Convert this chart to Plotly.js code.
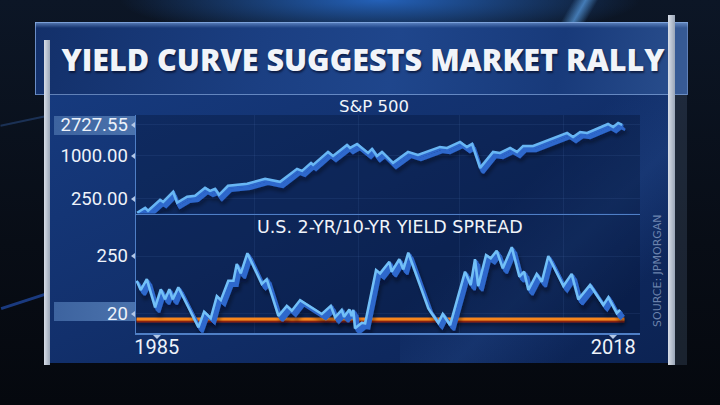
<!DOCTYPE html>
<html>
<head>
<meta charset="utf-8">
<script src="https://cdn.plot.ly/plotly-3.0.1.min.js"></script>
<style>
  html, body { margin:0; padding:0; background:#070c14; }
  #wrap { position:relative; width:720px; height:405px; overflow:hidden;
    background:
      radial-gradient(ellipse 260px 40px at 380px 0px, rgba(40,110,210,0.85), rgba(40,110,210,0) 100%),
      linear-gradient(180deg, #0c1626 0%, #080d16 60%, #05080e 100%); }
  .deco { position:absolute; }
  .ptr { position:absolute; width:0; height:0; }
  #chart { position:absolute; left:0; top:0; width:720px; height:405px; }
</style>
</head>
<body>
<div id="wrap">
  <div class="deco" style="left:0;top:120px;width:46px;height:2px;background:rgba(60,110,190,0.35);transform:rotate(-12deg);"></div>
  <div class="deco" style="left:0;top:300px;width:46px;height:3px;background:rgba(40,90,200,0.6);transform:rotate(-18deg);"></div>
  <div class="deco" style="left:560px;top:-10px;width:40px;height:40px;background:linear-gradient(120deg,rgba(90,160,230,0) 30%,rgba(90,160,230,0.7) 50%,rgba(90,160,230,0) 70%);"></div>
  <!-- panel body -->
  <div class="deco" style="left:50px;top:95px;width:618px;height:268px;background:linear-gradient(155deg,#163a7e 0%,#12306c 45%,#0e285e 75%,#0c2353 100%);"></div>
  <div class="deco" style="left:400px;top:95px;width:268px;height:268px;background:linear-gradient(135deg,rgba(60,110,190,0) 40%,rgba(60,110,190,0.18) 60%,rgba(60,110,190,0) 80%);"></div>
  <!-- banner -->
  <div class="deco" style="left:35px;top:22px;width:653px;height:73px;box-sizing:border-box;border:1px solid rgba(160,195,245,0.55);background:linear-gradient(100deg,#13306a 0%,#1b3f82 35%,#1f468c 55%,#183a7a 80%,#2a4f8e 100%);"></div>
  <div class="deco" style="left:35px;top:22px;width:653px;height:6px;background:linear-gradient(180deg,rgba(150,190,245,0.55),rgba(150,190,245,0));"></div>
  <!-- silver bars -->
  <div class="deco" style="left:44px;top:40px;width:6px;height:325px;background:linear-gradient(90deg,#d8dee8,#9aa6b8);"></div>
  <div class="deco" style="left:668px;top:15px;width:7px;height:350px;background:linear-gradient(90deg,#d8dee8,#9aa6b8);"></div>
  <div class="deco" style="left:675px;top:22px;width:12px;height:343px;background:rgba(120,150,190,0.18);"></div>
  <!-- highlighted tick boxes -->
  <div class="deco" style="left:54px;top:116px;width:82px;height:19px;background:linear-gradient(90deg,#3d639f,#4b73ad);"></div>
  <div class="deco" style="left:54px;top:302px;width:82px;height:19px;background:linear-gradient(90deg,#3d639f,#4b73ad);"></div>
  <div id="chart"></div>
</div>
<script>
// ---- data ----
const spYears = [1983.58,1984.16,1984.37,1985.24,1985.46,1986.18,1986.47,1987.19,1987.77,1988.49,1988.85,1989.21,1989.50,1990.15,1991.53,1992.83,1993.91,1995.14,1995.50,1996.15,1996.30,1997.38,1997.74,1998.75,1998.97,1999.48,2000.27,2000.56,2000.92,2001.28,2002.08,2003.16,2003.88,2005.47,2005.98,2006.92,2007.42,2007.79,2008.37,2009.31,2009.81,2010.54,2011.04,2011.48,2012.20,2014.66,2015.09,2015.60,2016.11,2017.62,2017.99,2018.35,2018.64];
const spValues = [158.7,186.6,169.3,241.5,226.3,312.7,219.2,266.1,274.8,355.8,322.9,344.5,283.8,379.6,404.9,475.9,431.9,657.2,616.0,797.6,747.6,1138,1000,1427,1295,1473,1102,1254,1000,1138,797.6,1138,1033,1337,1295,1572,1337,1473,678.6,1138,1102,1295,1138,1381,1381,2102,1847,2171,2102,2810,2551,2903,2727.55];

const spreadYears = [1983.55,1983.84,1984.28,1984.88,1985.29,1985.60,1985.91,1986.16,1986.56,1988.01,1988.42,1988.90,1989.34,1989.63,1990.17,1990.54,1990.78,1991.07,1991.55,1992.59,1992.95,1993.79,1994.40,1994.76,1995.36,1996.93,1997.58,1997.89,1998.37,1998.54,1998.92,1999.09,1999.21,1999.33,1999.82,2000.06,2000.85,2001.14,2001.81,2001.98,2002.53,2002.82,2003.18,2004.63,2005.35,2005.67,2006.20,2007.28,2007.69,2008.00,2008.24,2008.80,2009.14,2009.57,2010.01,2010.66,2011.21,2011.55,2011.86,2012.46,2012.83,2013.30,2014.39,2014.99,2015.47,2016.32,2017.28,2017.64,2018.25,2018.49];
const spreadValues = [152,115,158,46,118,78,118,78,126,-33,29,3,91,75,152,152,218,181,261,139,158,12,52,33,75,20,52,7,36,9,38,12,36,-37,-15,-17,194,181,227,188,237,197,263,42,-15,20,-24,188,135,237,131,254,241,271,201,285,168,188,115,179,148,250,131,179,78,135,56,86,23,36];

const zeroLineYears = [1983.55, 2018.8];
const zeroLineValues = [0, 0];

const spTickVals = [250, 1000, 2727.55];
const spTickText = ['250.00', '1000.00', '2727.55'];
const spreadTickVals = [20, 250];
const spreadTickText = ['20', '250'];
const xTickVals = [1985, 2018];
const xTickText = ['1985', '2018'];

const chartTitle = 'YIELD CURVE SUGGESTS MARKET RALLY';
const spTitle = 'S&amp;P 500';
const spreadTitle = 'U.S. 2-YR/10-YR YIELD SPREAD';
const sourceText = 'SOURCE: JPMORGAN';

// ---- geometry ----
const W = 720, H = 405;
const px2x = p => p / W, px2y = p => 1 - p / H;
const xR = [1983.5, 2019.93];
const xDom = [px2x(136), px2x(640)];
const y1Top = 115, y1Bot = 213.5;
const y1R = [2.19, 3.575];
const y2Top = 215, y2Bot = 333;
const y2R = [-55.6, 412.7];

const traces = [
  {uid: 'zero', x: zeroLineYears, y: zeroLineValues, xaxis: 'x', yaxis: 'y2', mode: 'lines',
   line: {color: '#f7861e', width: 3}, hoverinfo: 'skip'},
  {uid: 'spread', x: spreadYears, y: spreadValues, xaxis: 'x', yaxis: 'y2', mode: 'lines',
   line: {color: '#72c0f8', width: 2.5}, hoverinfo: 'skip'},
  {uid: 'sp', x: spYears, y: spValues, xaxis: 'x', yaxis: 'y', mode: 'lines',
   line: {color: '#68b6f4', width: 2.5}, hoverinfo: 'skip'}
];

const axisLine = '#4f7fc6';
const gridCol = 'rgba(110,150,220,0.10)';
const tickFont = {family: 'Roboto, "Open Sans", sans-serif', size: 18.5, color: '#eef3fa'};

const layout = {
  width: W, height: H,
  margin: {l: 0, r: 0, t: 0, b: 0},
  paper_bgcolor: 'rgba(0,0,0,0)',
  plot_bgcolor: 'rgba(4,14,44,0.32)',
  showlegend: false,
  title: {
    text: chartTitle, x: px2x(363), y: px2y(60), xanchor: 'center', yanchor: 'middle',
    font: {family: '"Open Sans", Roboto, sans-serif', size: 30.5, weight: 800, color: '#f1f4f9',
           shadow: '1px 2px 2px rgba(0,0,20,0.55)'}
  },
  xaxis: {
    domain: xDom, range: xR, anchor: 'y2',
    tickvals: xTickVals, ticktext: xTickText, ticks: '',
    tickfont: {family: 'Roboto, "Open Sans", sans-serif', size: 20, color: '#eef3fa'},
    ticklabelstandoff: -5,
    showline: true, linecolor: axisLine, linewidth: 1.5, mirror: true,
    showgrid: false, zeroline: false, fixedrange: true,
    minor: {tickvals: [1992.1, 1999.55, 2006.9, 2014.4], showgrid: true, gridcolor: gridCol, ticks: ''}
  },
  yaxis: {
    domain: [px2y(y1Bot), px2y(y1Top)], range: y1R, type: 'log', anchor: 'x',
    tickvals: spTickVals, ticktext: spTickText, ticks: '',
    tickfont: tickFont, ticklabelstandoff: 3,
    showline: true, linecolor: axisLine, linewidth: 1.5,
    showgrid: true, gridcolor: gridCol, zeroline: false, fixedrange: true
  },
  yaxis2: {
    domain: [px2y(y2Bot), px2y(y2Top)], range: y2R, anchor: 'x',
    tickvals: spreadTickVals, ticktext: spreadTickText, ticks: '',
    tickfont: tickFont, ticklabelstandoff: 3,
    showline: true, linecolor: axisLine, linewidth: 1.5,
    showgrid: true, gridcolor: gridCol, zeroline: false, fixedrange: true
  },
  annotations: [
    {text: spTitle, xref: 'paper', yref: 'paper', x: px2x(374), y: px2y(106), xanchor: 'center', yanchor: 'middle',
     showarrow: false, font: {family: '"DejaVu Sans", sans-serif', size: 16.5, color: '#f0f4fa'}},
    {text: spreadTitle, xref: 'paper', yref: 'paper', x: px2x(390), y: px2y(227), xanchor: 'center', yanchor: 'middle',
     showarrow: false, font: {family: '"DejaVu Sans", sans-serif', size: 17.5, color: '#f0f4fa'}},
    {text: sourceText, xref: 'paper', yref: 'paper', x: px2x(657), y: px2y(271), xanchor: 'center', yanchor: 'middle',
     textangle: -90, showarrow: false, font: {family: '"DejaVu Sans", sans-serif', size: 11, color: 'rgba(140,162,200,0.75)'}}
  ]
};

const SVGNS = 'http://www.w3.org/2000/svg';
function el(tag, attrs, parent) {
  const e = document.createElementNS(SVGNS, tag);
  for (const k in attrs) e.setAttribute(k, attrs[k]);
  if (parent) parent.appendChild(e);
  return e;
}
function makeExtrude(defs, id, steps, color, shadowDx, shadowDy) {
  const f = el('filter', {id: id, filterUnits: 'userSpaceOnUse', x: -200, y: -300, width: 1200, height: 1000}, defs);
  const names = [];
  steps.forEach((s, i) => {
    el('feOffset', {in: 'SourceAlpha', dx: s[0], dy: s[1], result: 'o' + i}, f);
    names.push('o' + i);
  });
  const m = el('feMerge', {result: 'm'}, f);
  names.forEach(n => el('feMergeNode', {in: n}, m));
  el('feFlood', {'flood-color': color, result: 'fc'}, f);
  el('feComposite', {in: 'fc', in2: 'm', operator: 'in', result: 'ext'}, f);
  el('feOffset', {in: 'SourceAlpha', dx: shadowDx, dy: shadowDy, result: 'so'}, f);
  el('feGaussianBlur', {in: 'so', stdDeviation: 2.2, result: 'sb'}, f);
  el('feFlood', {'flood-color': '#000714', 'flood-opacity': 0.65, result: 'sc'}, f);
  el('feComposite', {in: 'sc', in2: 'sb', operator: 'in', result: 'shadow'}, f);
  const m2 = el('feMerge', {}, f);
  ['shadow', 'ext', 'SourceGraphic'].forEach(n => el('feMergeNode', {in: n}, m2));
}

// small pointer triangles next to the library's own tick labels
function addPointers(gd) {
  const wrap = document.getElementById('wrap');
  const base = wrap.getBoundingClientRect();
  const col = '#b4c8e6';
  gd.querySelectorAll('.yaxislayer-above .ytick text, .yaxislayer-above .y2tick text').forEach(t => {
    const r = t.getBoundingClientRect();
    const d = document.createElement('div');
    d.className = 'ptr';
    d.style.left = (r.right - base.left + 3) + 'px';
    d.style.top = ((r.top + r.bottom) / 2 - base.top - 3.5) + 'px';
    d.style.borderTop = '3.5px solid transparent';
    d.style.borderBottom = '3.5px solid transparent';
    d.style.borderRight = '4.5px solid ' + col;
    wrap.appendChild(d);
  });
  gd.querySelectorAll('.xaxislayer-above .xtick text').forEach(t => {
    const r = t.getBoundingClientRect();
    const d = document.createElement('div');
    d.className = 'ptr';
    d.style.left = ((r.left + r.right) / 2 - base.left - 4) + 'px';
    d.style.top = '335px';
    d.style.borderLeft = '4px solid transparent';
    d.style.borderRight = '4px solid transparent';
    d.style.borderTop = '4px solid ' + col;
    wrap.appendChild(d);
  });
}

Plotly.newPlot('chart', traces, layout, {displayModeBar: false, staticPlot: true}).then(gd => {
  const svg = gd.querySelector('svg.main-svg');
  let defs = svg.querySelector('defs');
  if (!defs) defs = el('defs', {}, svg);
  makeExtrude(defs, 'extSp', [[0.7,1.2],[1.4,2.4],[2.1,3.6],[2.8,4.6]], '#2d67cc', 4, 8);
  makeExtrude(defs, 'extSpread', [[0.8,1],[1.6,2],[2.4,3],[3.2,4],[4,5]], '#2d67cc', 5, 9);
  makeExtrude(defs, 'extZero', [[0,1],[0,2]], '#8e2410', 0, 4);
  const apply = (uid, id) => gd.querySelectorAll('.trace' + uid + ' path.js-line').forEach(p => p.setAttribute('filter', 'url(#' + id + ')'));
  apply('sp', 'extSp');
  apply('spread', 'extSpread');
  apply('zero', 'extZero');
  addPointers(gd);
});
</script>
</body>
</html>
